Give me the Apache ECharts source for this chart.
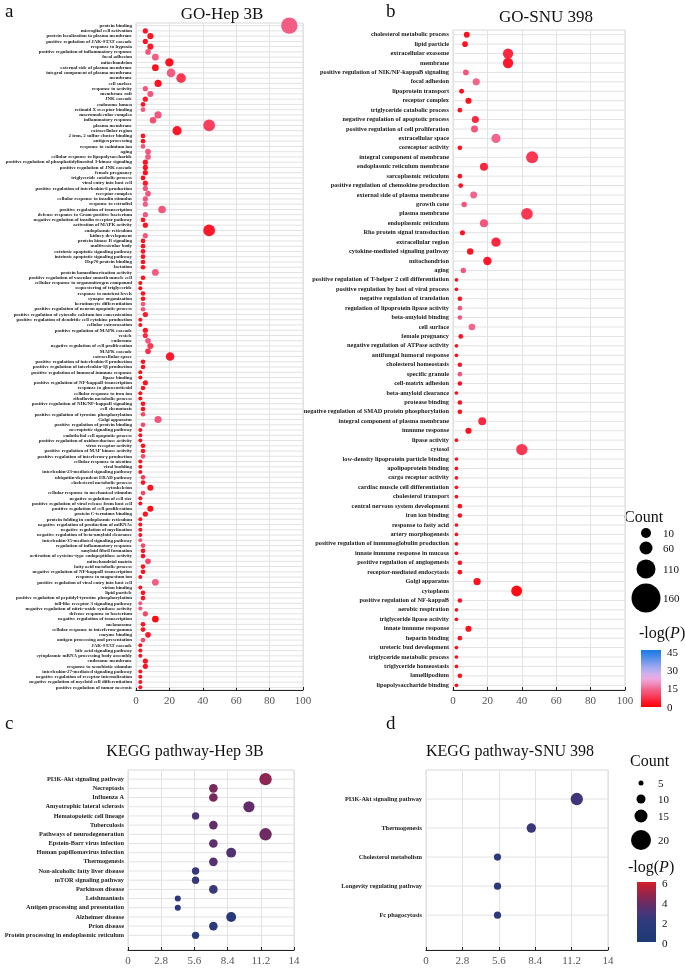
<!DOCTYPE html>
<html><head><meta charset="utf-8">
<script src="https://cdn.jsdelivr.net/npm/echarts@6/dist/echarts.min.js"></script>
<style>html,body{margin:0;padding:0;background:#fff}#c{width:685px;height:972px}</style>
</head><body><div id="c"></div>
<script>
// ---------- Panel a: GO Hep 3B ----------
const hepGoTerms = ["protein binding","microglial cell activation","protein localization to plasma membrane","positive regulation of JAK-STAT cascade","response to hypoxia","positive regulation of inflammatory response","focal adhesion","mitochondrion","external side of plasma membrane","integral component of plasma membrane","membrane","cell surface","response to activity","membrane raft","JNK cascade","endosome lumen","retinoid X receptor binding","macromolecular complex","inflammatory response","plasma membrane","extracellular region","2 iron, 2 sulfur cluster binding","antigen processing","response to cadmium ion","aging","cellular response to lipopolysaccharide","positive regulation of phosphatidylinositol 3-kinase signaling","positive regulation of JNK cascade","female pregnancy","triglyceride catabolic process","viral entry into host cell","positive regulation of interleukin-6 production","receptor complex","cellular response to insulin stimulus","response to estradiol","positive regulation of transcription","defense response to Gram-positive bacterium","negative regulation of insulin receptor pathway","activation of MAPK activity","endoplasmic reticulum","kidney development","protein kinase B signaling","multivesicular body","extrinsic apoptotic signaling pathway","intrinsic apoptotic signaling pathway","Hsp70 protein binding","lactation","protein homodimerization activity","positive regulation of vascular smooth muscle cell","cellular response to organonitrogen compound","sequestering of triglyceride","response to nutrient levels","synapse organization","keratinocyte differentiation","positive regulation of neuron apoptotic process","positive regulation of cytosolic calcium ion concentration","positive regulation of dendritic cell cytokine production","cellular extravasation","positive regulation of MAPK cascade","vesicle","endosome","negative regulation of cell proliferation","MAPK cascade","extracellular space","positive regulation of interleukin-8 production","positive regulation of interleukin-1β production","positive regulation of humoral immune response","lipase binding","positive regulation of NF-kappaB transcription","response to glucocorticoid","cellular response to iron ion","riboflavin metabolic process","positive regulation of NIK/NF-kappaB signaling","cell chemotaxis","positive regulation of tyrosine phosphorylation","Golgi apparatus","positive regulation of protein binding","necroptotic signaling pathway","endothelial cell apoptotic process","positive regulation of oxidoreductase activity","virus receptor activity","positive regulation of MAP kinase activity","positive regulation of interferon-γ production","cellular response to nicotine","viral budding","interleukin-23-mediated signaling pathway","ubiquitin-dependent ERAD pathway","cholesterol metabolic process","cytoskeleton","cellular response to mechanical stimulus","negative regulation of cell size","positive regulation of viral release from host cell","positive regulation of cell proliferation","protein C-terminus binding","protein folding in endoplasmic reticulum","negative regulation of production of miRNAs","negative regulation of myelination","negative regulation of beta-amyloid clearance","interleukin-35-mediated signaling pathway","regulation of inflammatory response","amyloid fibril formation","activation of cysteine-type endopeptidase activity","mitochondrial matrix","fatty acid metabolic process","negative regulation of NF-kappaB transcription","response to magnesium ion","positive regulation of viral entry into host cell","virion binding","lipid particle","positive regulation of peptidyl-tyrosine phosphorylation","toll-like receptor 3 signaling pathway","negative regulation of nitric-oxide synthase activity","defense response to bacterium","negative regulation of transcription","melanosome","cellular response to interferon-gamma","enzyme binding","antigen processing and presentation","JAK-STAT cascade","bile acid signaling pathway","cytoplasmic mRNA processing body assembly","endosome membrane","response to xenobiotic stimulus","interleukin-27-mediated signaling pathway","negative regulation of receptor internalization","negative regulation of myeloid cell differentiation","positive regulation of tumor necrosis"];
const hepGoCount = [91.8,5.6,8.6,5.6,8.6,7.2,11.6,20,11.6,21,27,13.2,5.6,8.6,5.6,4.2,4.2,13.2,10.2,43.8,24.6,4.2,4.2,4.2,7.2,7.2,5.6,5.6,5.6,4.2,5.6,5.6,7.2,5.6,5.6,15.6,5.6,4.2,5.6,43.8,5.6,4.2,4.2,4.2,4.2,4.2,4.2,11.6,4.2,2.6,2.6,4.2,4.2,4.2,4.2,5.6,2.6,2.6,5.6,5.6,7.2,8.6,7.2,20.4,4.2,4.2,2.6,2.6,5.6,4.2,2.6,2.6,4.2,4.2,4.2,13.2,4.2,2.6,2.6,2.6,4.2,4.2,4.2,2.6,2.6,2.6,4.2,4.2,8.6,4.2,2.6,2.6,8.6,5.6,2.6,2.6,2.6,2.6,2.6,4.2,4.2,4.2,7.2,4.2,4.2,2.6,11.6,2.6,4.2,4.2,2.6,2.6,5.6,11.6,4.2,4.2,7.2,4.2,2.6,2.6,2.6,5.6,5.6,2.6,2.6,2.6,2.6];
const hepGoLogP = [13,3,3,3,4,12,13,3,3,13,8,3,12,12,4,3,12,12,11,9,4,3,3,12,12,13,3,3,3,2,4,12,12,12,13,12,12,3,3,4,12,3,3,3,3,3,3,13,3,2,2,3,3,12,12,4,3,3,3,6,12,8,7,4,3,3,2,2,3,3,2,2,3,3,10,12,10,3,3,3,3,3,11,3,3,3,8,3,3,10,3,3,2,3,3,3,3,3,12,10,3,3,10,3,3,3,13,3,3,3,12,12,10,2,3,3,4,10,3,3,3,3,3,3,3,3,3];

// ---------- Panel b: GO SNU 398 ----------
const snuGoTerms = ["cholesterol metabolic process","lipid particle","extracellular exosome","membrane","positive regulation of NIK/NF-kappaB signaling","focal adhesion","lipoprotein transport","receptor complex","triglyceride catabolic process","negative regulation of apoptotic process","positive regulation of cell proliferation","extracellular space","coreceptor activity","integral component of membrane","endoplasmic reticulum membrane","sarcoplasmic reticulum","positive regulation of chemokine production","external side of plasma membrane","growth cone","plasma membrane","endoplasmic reticulum","Rho protein signal transduction","extracellular region","cytokine-mediated signaling pathway","mitochondrion","aging","positive regulation of T-helper 2 cell differentiation","positive regulation by host of viral process","negative regulation of translation","regulation of lipoprotein lipase activity","beta-amyloid binding","cell surface","female pregnancy","negative regulation of ATPase activity","antifungal humoral response","cholesterol homeostasis","specific granule","cell-matrix adhesion","beta-amyloid clearance","protease binding","negative regulation of SMAD protein phosphorylation","integral component of plasma membrane","immune response","lipase activity","cytosol","low-density lipoprotein particle binding","apolipoprotein binding","cargo receptor activity","cardiac muscle cell differentiation","cholesterol transport","central nervous system development","iron ion binding","response to fatty acid","artery morphogenesis","positive regulation of immunoglobulin production","innate immune response in mucosa","positive regulation of angiogenesis","receptor-mediated endocytosis","Golgi apparatus","cytoplasm","positive regulation of NF-kappaB","aerobic respiration","triglyceride lipase activity","innate immune response","heparin binding","ureteric bud development","triglyceride metabolic process","triglyceride homeostasis","lamellipodium","lipopolysaccharide binding"];
const snuGoCount = [8,7,32,32,7.5,13.5,5,9,4,13,12.5,25,4,46,18,4,4.5,12,6.5,43,18,5.5,25,10,20,6,2,2,4,4,4,11,4.5,2,2,4,4,4,2,4,4,17,9,2,40,2,2,2,2,2,4,4,2,2,2,2,4,4,14,37,4,2,2,9,4,2,2,2,4,2];
const snuGoLogP = [3,3,6,4,12,14,3,3,3,6,12,14,3,8,6,3,3,14,12,8,12,3,6,3,4,12,3,3,3,12,12,14,3,3,3,4,12,3,3,3,3,6,3,3,8,3,3,3,3,3,3,3,3,3,3,3,3,3,3,2,3,3,3,3,3,3,3,3,3,3];

// ---------- Panel c: KEGG Hep 3B ----------
const hepKeggTerms = ["PI3K-Akt signaling pathway","Necroptosis","Influenza A","Amyotrophic lateral sclerosis","Hematopoietic cell lineage","Tuberculosis","Pathways of neurodegeneration","Epstein-Barr virus infection","Human papillomavirus infection","Thermogenesis","Non-alcoholic fatty liver disease","mTOR signaling pathway","Parkinson disease","Leishmaniasis","Antigen processing and presentation","Alzheimer disease","Prion disease","Protein processing in endoplasmic reticulum"];
const hepKeggCount = [11.6,7.2,7.2,10.2,5.7,7.2,11.6,7.2,8.7,7.2,5.7,5.7,7.2,4.2,4.2,8.7,7.2,5.7];
const hepKeggLogP = [4.6,4.2,4.1,3.6,3.1,3.6,3.9,3.5,3.2,3.3,2.3,2.3,2.4,1.8,1.8,1.5,1.8,1.6];

// ---------- Panel d: KEGG SNU 398 ----------
const snuKeggTerms = ["PI3K-Akt signaling pathway","Thermogenesis","Cholesterol metabolism","Longevity regulating pathway","Fc phagocytosis"];
const snuKeggCount = [11.6,8.1,5.5,5.5,5.5];
const snuKeggLogP = [2.6,2.4,1.8,1.8,1.8];

// ---------- axis / legend tick labels ----------
const goTicks = [0,20,40,60,80,100];
const keggTicks = [0,2.8,5.6,8.4,11.2,14];
const goCountLegend = [10,60,110,160];
const goLogPLegend = [45,30,15,0];
const keggCountLegend = [5,10,15,20];
const keggLogPLegend = [6,4,2,0];

const goColors = ['#ff0000','#ff1a30','#f8405e','#f26088','#f08ab8','#eeaae0','#c8b0f0','#a0a8f0','#7098ec','#4088e8','#1a78e6'];
const keggColors = ['#1f3a75','#243a78','#2e3a7c','#4a3478','#702a60','#a02445','#d41f2b'];

const SERIF = "'Liberation Serif','DejaVu Serif',serif";
const goSize = v => 1.5 + 1.55*Math.sqrt(v);
const keggSize = v => 2.5 + 0.85*v;

const chart = echarts.init(document.getElementById('c'));

function gridDef(left, top, width, height){ return {left, top, width, height, show:true, borderColor:'#d8d8d8', borderWidth:1, containLabel:false}; }
function xDef(gi, ticks, fs){
  return {type:'value', gridIndex:gi, min:ticks[0], max:ticks[ticks.length-1], interval:ticks[1]-ticks[0],
    axisLine:{show:true, onZero:false, lineStyle:{color:'#222', width:1}},
    axisTick:{show:true, inside:true, length:3, lineStyle:{color:'#222'}},
    axisLabel:{fontFamily:SERIF, fontSize:fs, color:'#555', margin:6, formatter:v=>String(Math.round(v*10)/10)},
    splitLine:{show:true, lineStyle:{color:'#e2e2e2', width:1}}};
}
function yDef(gi, cats, fs){
  return {type:'category', gridIndex:gi, data:cats, inverse:true, boundaryGap:true,
    axisLine:{show:false}, axisTick:{show:false}, splitLine:{show:false},
    axisLabel:{interval:0, fontFamily:SERIF, fontWeight:'bold', fontSize:fs, color:'#1a1a1a', margin:4}};
}
// value-type y axis (used where rows do not fill the box evenly)
function yValDef(gi, cats, fs, min, max){
  return {type:'value', gridIndex:gi, inverse:true, min, max, interval:1,
    axisLine:{show:false}, axisTick:{show:false}, splitLine:{show:false},
    axisLabel:{showMaxLabel:false, showMinLabel:false, fontFamily:SERIF, fontWeight:'bold', fontSize:fs, color:'#1a1a1a', margin:4,
      formatter:v=>{ const i=Math.round(v); return (Math.abs(v-i)<1e-6 && i>=0 && i<cats.length) ? cats[i] : ''; }}};
}
function rowLines(ai, cats, xmin, xmax){
  return {type:'custom', xAxisIndex:ai, yAxisIndex:ai, silent:true, z:1,
    data: cats.map((c,i)=>[xmin, i]),
    encode:{x:0, y:1},
    renderItem:(params, api)=>{
      const p1 = api.coord([xmin, api.value(1)]);
      const p2 = api.coord([xmax, api.value(1)]);
      return {type:'line', shape:{x1:p1[0], y1:p1[1], x2:p2[0], y2:p2[1]}, style:{stroke:'#e2e2e2', lineWidth:1}};
    }};
}
function scatter(ai, cats, counts, logp, sizeFn){
  return {type:'scatter', xAxisIndex:ai, yAxisIndex:ai, z:3,
    data: cats.map((c,i)=>[counts[i], i, logp[i]]),
    symbolSize: d => sizeFn(d[0]),
    itemStyle:{opacity:1}};
}

// legend graphics
const g = [];
function txt(x,y,t,fs){ g.push({type:'text', x, y, style:{text:String(t), font:`${fs}px ${SERIF}`, fill:'#111', textAlign:'left', textVerticalAlign:'middle'}}); }
function logPTitle(x,y,fs){
  g.push({type:'text', x, y, style:{text:'{a|-log(}{b|P}{a|)}', textVerticalAlign:'middle', rich:{a:{font:`${fs}px ${SERIF}`, fill:'#111'}, b:{font:`italic ${fs}px ${SERIF}`, fill:'#111'}}}});
}
txt(5,12,'a',19); txt(386,12,'b',19); txt(5,724,'c',19); txt(386,724,'d',19);
g.push({type:'text', x:222, y:15, style:{text:'GO-Hep 3B', font:`17px ${SERIF}`, fill:'#111', textAlign:'center', textVerticalAlign:'middle'}});
g.push({type:'text', x:546, y:18, style:{text:'GO-SNU 398', font:`17px ${SERIF}`, fill:'#111', textAlign:'center', textVerticalAlign:'middle'}});
g.push({type:'text', x:185, y:752, style:{text:'KEGG pathway-Hep 3B', font:`16px ${SERIF}`, fill:'#111', textAlign:'center', textVerticalAlign:'middle'}});
g.push({type:'text', x:510, y:752, style:{text:'KEGG pathway-SNU 398', font:`16px ${SERIF}`, fill:'#111', textAlign:'center', textVerticalAlign:'middle'}});

// GO count legend
txt(624,518,'Count',16);
const goLegY = [533,548,569,598];
goCountLegend.forEach((v,i)=>{
  const d = [10,13,19,29][i];
  g.push({type:'circle', shape:{cx:646, cy:goLegY[i], r:d/2}, style:{fill:'#000'}});
  txt(663, goLegY[i]+1, v, 11);
});
logPTitle(639,634,16);
g.push({type:'rect', shape:{x:641, y:650, width:20, height:57}, style:{fill:new echarts.graphic.LinearGradient(0,0,0,1, goColors.slice().reverse().map((c,i)=>({offset:i/(goColors.length-1), color:c})))}});
goLogPLegend.forEach((v,i)=>txt(667, 653+i*18.3, v, 11));

// KEGG count legend
txt(630,762,'Count',16);
const kLegY = [783,799,816,840];
keggCountLegend.forEach((v,i)=>{
  const d = [5,9,13,20][i];
  g.push({type:'circle', shape:{cx:641, cy:kLegY[i], r:d/2}, style:{fill:'#000'}});
  txt(658, kLegY[i]+1, v, 11);
});
logPTitle(628,868,16);
g.push({type:'rect', shape:{x:637, y:882, width:19, height:60}, style:{fill:new echarts.graphic.LinearGradient(0,0,0,1, keggColors.slice().reverse().map((c,i)=>({offset:i/(keggColors.length-1), color:c})))}});
keggLogPLegend.forEach((v,i)=>txt(662, 884+i*20, v, 11));

const option = {
  animation:false,
  backgroundColor:'#fff',
  grid:[gridDef(136,23,167,667), gridDef(453,30,172,660), gridDef(128,770,166,180), gridDef(426,770,182,180)],
  xAxis:[xDef(0,goTicks,11), xDef(1,goTicks,11), xDef(2,keggTicks,11), xDef(3,keggTicks,11)],
  yAxis:[yDef(0,hepGoTerms,4.9), yDef(1,snuGoTerms,6.3), yValDef(2,hepKeggTerms,6.3,-1,18.6), yValDef(3,snuKeggTerms,6.3,-1,5.2)],
  visualMap:[
    {type:'continuous', show:false, min:0, max:45, dimension:2, seriesIndex:[1,3], inRange:{color:goColors}},
    {type:'continuous', show:false, min:0, max:6, dimension:2, seriesIndex:[5,7], inRange:{color:keggColors}}
  ],
  series:[
    rowLines(0,hepGoTerms,0,100), scatter(0,hepGoTerms,hepGoCount,hepGoLogP,goSize),
    rowLines(1,snuGoTerms,0,100), scatter(1,snuGoTerms,snuGoCount,snuGoLogP,goSize),
    rowLines(2,hepKeggTerms,0,14), scatter(2,hepKeggTerms,hepKeggCount,hepKeggLogP,keggSize),
    rowLines(3,snuKeggTerms,0,14), scatter(3,snuKeggTerms,snuKeggCount,snuKeggLogP,keggSize)
  ],
  graphic:g
};
chart.setOption(option);
</script></body></html>
